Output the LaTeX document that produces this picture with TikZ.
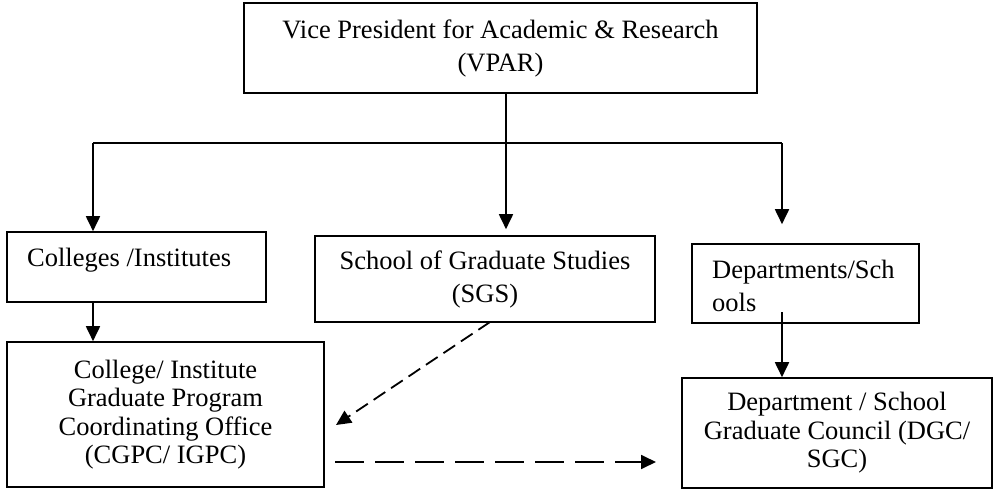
\documentclass[tikz,border=0pt]{standalone}
\usepackage{fontspec}
\setmainfont{Liberation Serif}
\usetikzlibrary{arrows.meta}
\begin{document}
\begin{tikzpicture}[x=1pt,y=-1pt,
  box/.style={draw, line width=1.6pt, inner sep=0pt, align=center,
    font=\fontsize{26.5}{33}\selectfont},
  tight/.style={font=\fontsize{26.5}{28.5}\selectfont},
  txt/.style={inner sep=0pt, align=left, font=\fontsize{26.5}{33}\selectfont},
  line/.style={line width=1.8pt},
  arr/.style={line width=1.8pt, -{Triangle[length=15pt,width=14pt]}},
  dsh/.style={line width=1.8pt, -{Triangle[length=15pt,width=14pt]}, dash pattern=on 29pt off 11pt},
  dshd/.style={line width=1.8pt, -{Triangle[length=15pt,width=14pt]}, dash pattern=on 14pt off 7pt}]
\useasboundingbox (0,0) rectangle (997,490);

\node[box, minimum width=513pt, minimum height=90pt] (vpar) at (500.5,48)
  {Vice President for Academic \& Research\\(VPAR)};
\node[box, minimum width=259pt, minimum height=70pt] (col) at (136.5,267) {};
\node[txt, anchor=west] (colt) at (27,260) {Colleges /Institutes};
\node[box, minimum width=340pt, minimum height=86pt] (sgs) at (485,279)
  {School of Graduate Studies\\(SGS)};
\node[box, minimum width=227pt, minimum height=79pt] (dep) at (805.5,283.5) {};
\node[txt, anchor=west] (dept) at (712,286) {Departments/Sch\\ools};
\node[box, tight, minimum width=317pt, minimum height=145pt] (cgpc) at (165.5,414.5)
  {College/ Institute\\Graduate Program\\Coordinating Office\\(CGPC/ IGPC)};
\node[box, tight, minimum width=310pt, minimum height=110pt] (dgc) at (837,433)
  {Department / School\\Graduate Council (DGC/\\SGC)};

\coordinate (jm) at (506,143);
\coordinate (jl) at (93,143);
\coordinate (jr) at (782,143);
\coordinate (ds) at (782,312);
\coordinate (d1) at (490,322);
\coordinate (d2) at (336,425);
\coordinate (h1) at (335,462);
\coordinate (h2) at (656,462);

\draw[line] (jl) -- (jr);
\draw[arr, shorten >=6pt] (vpar.south -| jm) -- (sgs.north -| jm);
\draw[arr] (jl) -- (col.north -| jl);
\draw[arr, shorten >=19pt] (jr) -- (dep.north -| jr);
\draw[arr] (col.south -| jl) -- (cgpc.north -| jl);
\draw[arr] (ds) -- (dgc.north -| ds);
\draw[dshd] (d1) -- (d2);
\draw[dsh] (h1) -- (h2);
\end{tikzpicture}
\end{document}
